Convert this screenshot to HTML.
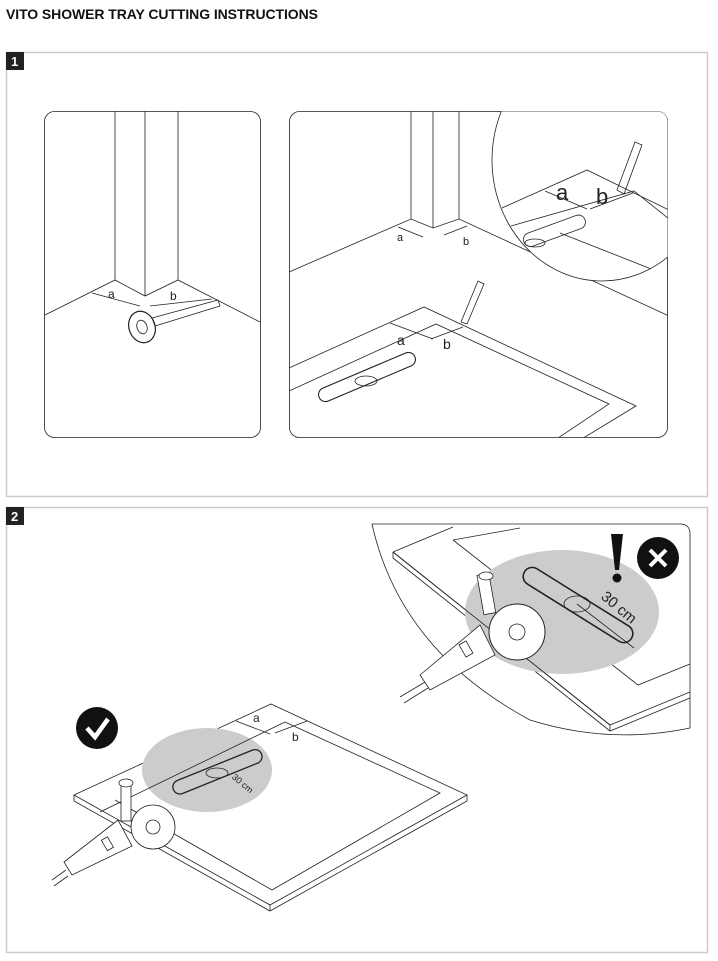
<!DOCTYPE html>
<html><head><meta charset="utf-8"><style>
body{margin:0;background:#fff;width:718px;height:961px;overflow:hidden}
svg{display:block}
text{font-family:"Liberation Sans",sans-serif}
</style></head><body>
<svg width="718" height="961" viewBox="0 0 718 961" xmlns="http://www.w3.org/2000/svg" fill="none" stroke="#222" stroke-width="0.8">
<defs>
<clipPath id="c1"><rect x="289.5" y="111.5" width="378" height="326" rx="10"/></clipPath>
<clipPath id="m1"><ellipse cx="602" cy="160" rx="110" ry="121"/></clipPath>
</defs>
<text x="6" y="19" font-size="14" font-weight="bold" fill="#111" stroke="none" textLength="312">VITO SHOWER TRAY CUTTING INSTRUCTIONS</text>
<!-- panel 1 -->
<rect x="6.5" y="52.5" width="701" height="444" stroke="#ccc" stroke-width="1.5"/>
<rect x="6" y="52" width="18" height="18" fill="#222" stroke="none"/>
<text x="11" y="66" font-size="13" font-weight="bold" fill="#fff" stroke="none">1</text>
<!-- left card -->
<rect x="44.5" y="111.5" width="216" height="326" rx="10"/>
<line x1="115" y1="111" x2="115" y2="280"/><line x1="145" y1="111" x2="145" y2="296"/><line x1="178" y1="111" x2="178" y2="280"/>
<polyline points="45,315 115,280 145,296 178,280 260,322"/>
<text x="108" y="298" font-size="12" fill="#222" stroke="none">a</text>
<text x="170" y="300" font-size="12" fill="#222" stroke="none">b</text>
<line x1="92" y1="293" x2="140" y2="306"/><line x1="150" y1="306" x2="212" y2="299"/>
<ellipse cx="142" cy="327" rx="13" ry="16" transform="rotate(-20 142 327)" stroke-width="1.2"/>
<ellipse cx="142" cy="327" rx="5" ry="7" transform="rotate(-20 142 327)"/>
<polygon points="152,318 218,300 220,306 155,326"/>
<!-- right card -->
<rect x="289.5" y="111.5" width="378" height="326" rx="10"/>
<g clip-path="url(#c1)">
<line x1="411" y1="111" x2="411" y2="219"/><line x1="433" y1="111" x2="433" y2="228"/><line x1="459" y1="111" x2="459" y2="219"/>
<polyline points="289,272 411,219 433,228 459,219 669,316"/>
<text x="397" y="241" font-size="11" fill="#222" stroke="none">a</text>
<text x="463" y="245" font-size="11" fill="#222" stroke="none">b</text>
<line x1="398" y1="227" x2="423" y2="237"/><line x1="444" y1="235" x2="467" y2="226"/>
<polyline points="289,368 424,307 636,406 580,440"/>
<polyline points="289,391 436,324 609,404 555,440"/>
<text x="397" y="345" font-size="14" fill="#222" stroke="none">a</text>
<text x="443" y="349" font-size="14" fill="#222" stroke="none">b</text>
<line x1="390" y1="323" x2="433" y2="339"/><line x1="431" y1="339" x2="463" y2="327"/>
<rect x="315" y="370" width="104" height="14" rx="7" transform="rotate(-23 367 377)" stroke-width="1.1"/>
<ellipse cx="366" cy="381" rx="11" ry="5"/>
<polygon points="461,322 478,281 484,284 467,324"/>
<!-- magnifier -->
<ellipse cx="602" cy="160" rx="110" ry="121" fill="#fff"/>
<g clip-path="url(#m1)">
<polyline points="502,208 587,170 669,210"/>
<polyline points="511,226 634,191 669,219"/>
<polyline points="560,233 669,276"/>
<rect x="522" y="224" width="65" height="14" rx="7" transform="rotate(-20 554 231)"/>
<ellipse cx="535" cy="243" rx="10" ry="4"/>
<text x="556" y="200" font-size="22" fill="#222" stroke="none">a</text>
<text x="596" y="204" font-size="22" fill="#222" stroke="none">b</text>
<line x1="545" y1="191" x2="587" y2="209"/><line x1="590" y1="209" x2="633" y2="193"/>
<polygon points="617,190 635,142 642,145 624,194"/>
</g>
</g>
<!-- panel 2 -->
<rect x="6.5" y="507.5" width="701" height="445" stroke="#ccc" stroke-width="1.5"/>
<rect x="6" y="507" width="18" height="18" fill="#222" stroke="none"/>
<text x="11" y="521" font-size="13" font-weight="bold" fill="#fff" stroke="none">2</text>
<!-- top-right magnifier -->
<path d="M372,524 L680,524 Q690,524 690,534 L690,728 Q610,745 530,720 Q400,650 372,524 Z" fill="#fff"/>
<polyline points="393,552 453,527"/>
<polyline points="393,552 610,725 690,692"/>
<polyline points="393,552 393,558 610,731 690,698"/>
<line x1="610" y1="725" x2="610" y2="731"/>
<polyline points="453,540 520,528"/><polyline points="453,540 638,685 690,664"/>
<ellipse cx="562" cy="612" rx="97" ry="62" fill="#ccc" stroke="none"/>
<line x1="393" y1="552" x2="610" y2="725" stroke="#222"/>
<rect x="515" y="596" width="126" height="18" rx="9" transform="rotate(32 578 605)" stroke-width="1.6"/>
<ellipse cx="577" cy="604" rx="13" ry="8"/>
<line x1="577" y1="604" x2="634" y2="648"/>
<text x="598" y="606" font-size="15" fill="#222" stroke="none" transform="rotate(40 610 605)">30 cm</text>
<path d="M611,534 L623,534 L619,570 L615,570 Z" fill="#111" stroke="none"/><circle cx="617" cy="578" r="4.5" fill="#111" stroke="none"/>
<circle cx="658" cy="558" r="21" fill="#111" stroke="none"/>
<path d="M650,550 L666,566 M666,550 L650,566" stroke="#fff" stroke-width="4"/>
<rect x="480" y="574" width="12" height="40" transform="rotate(-10 486 592)" fill="#fff"/>
<ellipse cx="486" cy="576" rx="7" ry="4" fill="#fff"/>
<circle cx="517" cy="632" r="28" fill="#fff" stroke-width="1"/>
<circle cx="517" cy="632" r="8"/>
<polygon points="420,675 480,625 495,655 430,690" fill="#fff"/>
<rect x="462" y="642" width="8" height="14" transform="rotate(-30 466 649)"/>
<path d="M400,697 L425,682 M404,703 L428,688"/>
<!-- main tray -->
<polygon points="271,704 467,795 270,905 74,795"/>
<polyline points="74,795 74,801 270,911 467,801 467,795"/><line x1="270" y1="905" x2="270" y2="911"/>
<polyline points="285,722 440,793 272,890 115,800"/>
<ellipse cx="207" cy="770" rx="65" ry="42" fill="#ccc" stroke="none"/>
<line x1="100" y1="812" x2="285" y2="722"/>
<rect x="170" y="765" width="95" height="14" rx="7" transform="rotate(-22 217 772)" stroke-width="1.3"/>
<ellipse cx="217" cy="773" rx="11" ry="5"/>
<text x="232" y="784" font-size="9" fill="#222" stroke="none" transform="rotate(40 240 780)">30 cm</text>
<text x="253" y="722" font-size="12" fill="#222" stroke="none">a</text>
<text x="292" y="741" font-size="12" fill="#222" stroke="none">b</text>
<line x1="236" y1="721" x2="270" y2="734"/><line x1="275" y1="733" x2="307" y2="721"/>
<circle cx="97" cy="728" r="21" fill="#111" stroke="none"/>
<path d="M87,728 L95,737 L108,719" stroke="#fff" stroke-width="4.5" fill="none"/>
<rect x="121" y="783" width="10" height="38" fill="#fff"/>
<ellipse cx="126" cy="783" rx="7" ry="4" fill="#fff"/>
<circle cx="153" cy="827" r="22" fill="#fff"/>
<circle cx="153" cy="827" r="7"/>
<polygon points="64,862 118,820 132,846 72,875" fill="#fff"/>
<rect x="104" y="838" width="7" height="12" transform="rotate(-30 107 844)"/>
<path d="M52,880 L66,870 M54,886 L68,876"/>
</svg>
</body></html>
